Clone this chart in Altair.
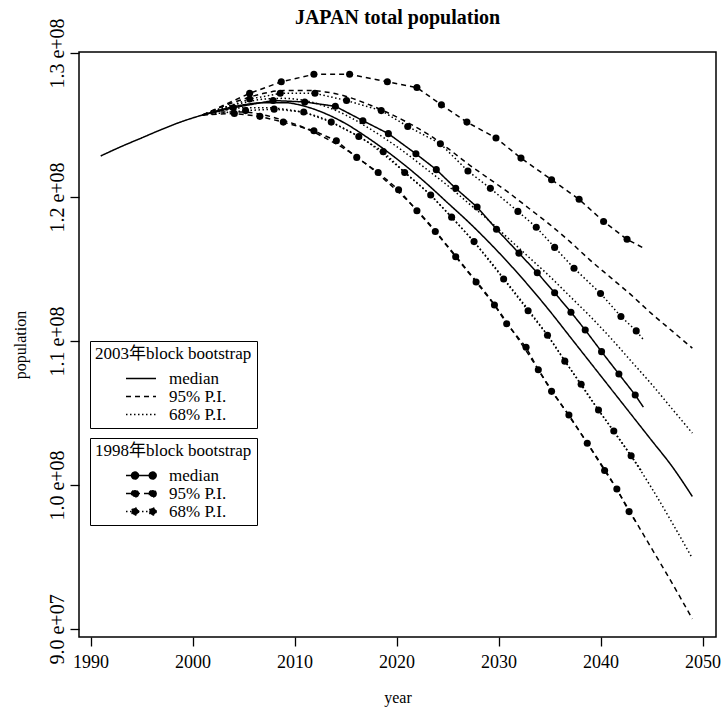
import altair as alt
import pandas as pd

TITLE = "JAPAN total population"
X_TICKS = [1990, 2000, 2010, 2020, 2030, 2040, 2050]
Y_TICKS = [90, 100, 110, 120, 130]          # population in millions
BANDS = ["median", "95% P.I.", "68% P.I."]
LEG03 = "2003年block bootstrap"
LEG98 = "1998年block bootstrap"

# observed part (drawn with the 2003 median)
obs_years = [1991, 1993, 1995, 1997, 1999]
obs_pop = [122.85, 123.5, 124.1, 124.7, 125.25]

# 2003 block bootstrap projections (millions)
fc03_years = [2001, 2003, 2005, 2007, 2009, 2011, 2013, 2015, 2017, 2019, 2021, 2023, 2025,
              2027, 2029, 2031, 2033, 2035, 2037, 2039, 2041, 2043, 2045, 2047, 2049]
med03 = [125.7, 126.1, 126.4, 126.55, 126.55, 126.3, 125.8, 125.1, 124.2, 123.2, 122.1, 120.9, 119.6,
         118.3, 116.9, 115.4, 113.8, 112.1, 110.3, 108.5, 106.7, 104.9, 103.1, 101.3, 99.2]
u95_03 = [125.7, 126.3, 126.8, 127.2, 127.4, 127.4, 127.3, 127.0, 126.5, 125.9, 125.2, 124.4, 123.4,
          122.3, 121.3, 120.3, 119.2, 118.1, 116.9, 115.6, 114.4, 113.2, 111.9, 110.7, 109.5]
u68_03 = [125.7, 126.2, 126.55, 126.8, 126.85, 126.7, 126.3, 125.7, 124.9, 124.0, 123.0, 121.9, 120.8,
          119.6, 118.4, 117.1, 115.8, 114.5, 113.1, 111.7, 110.2, 108.6, 107.0, 105.3, 103.6]
l68_03 = [125.7, 126.0, 126.2, 126.2, 126.1, 125.85, 125.4, 124.7, 123.9, 122.8, 121.6, 120.35, 118.9,
          117.35, 115.7, 113.9, 112.1, 110.2, 108.1, 106.0, 104.0, 102.0, 99.8, 97.4, 94.9]
l95_03 = [125.7, 125.9, 125.9, 125.7, 125.3, 124.8, 124.1, 123.3, 122.3, 121.1, 119.8, 118.3, 116.6,
          114.85, 113.1, 111.1, 109.0, 106.8, 104.7, 102.6, 100.4, 98.0, 95.6, 93.2, 90.7]

# 1998 block bootstrap projections: line vertices (inner vertices carry the dots)
med98_years = [2001, 2004.0, 2007.9, 2011.0, 2014.0, 2016.7, 2019.2, 2021.9, 2023.9, 2025.8, 2027.9,
               2029.8, 2032.0, 2033.8, 2035.5, 2037.1, 2038.5, 2040.1, 2041.8, 2043.4, 2044.2]
med98 = [125.7, 126.2, 126.7, 126.6, 126.3, 125.3, 124.4, 123.0, 121.9, 120.6, 119.3,
         117.76, 116.1, 114.74, 113.35, 112.0, 110.76, 109.26, 107.7, 106.25, 105.4]
u95_98_years = [2001, 2005.6, 2008.7, 2011.9, 2015.4, 2019.1, 2022.0, 2024.4, 2026.9, 2029.75, 2032.2,
                2035.2, 2037.9, 2040.3, 2042.6, 2044.1]
u95_98 = [125.7, 127.2, 128.0, 128.52, 128.52, 128.0, 127.6, 126.4, 125.2, 124.1, 122.7,
          121.2, 119.84, 118.3, 117.06, 116.5]
u68_98_years = [2001, 2005.6, 2008.6, 2012.0, 2015.1, 2018.5, 2021.1, 2024.3, 2027.0, 2029.2, 2031.9,
                2033.7, 2035.5, 2037.4, 2040.0, 2042.0, 2043.5, 2044.2]
u68_98 = [125.7, 126.8, 127.2, 127.2, 126.7, 126.0, 124.9, 123.7, 121.8, 120.6, 119.0,
          117.9, 116.5, 115.05, 113.3, 111.7, 110.7, 110.1]
l68_98_years = [2001, 2005.2, 2008.0, 2010.9, 2013.6, 2016.3, 2018.7, 2020.8, 2023.35, 2025.4, 2027.6,
                2030.5, 2032.9, 2034.8, 2036.5, 2038.1, 2039.8, 2041.3, 2043.0, 2044.0]
l68_98 = [125.7, 126.0, 126.1, 125.9, 125.2, 124.2, 123.15, 121.7, 120.14, 118.6, 116.9,
          114.3, 112.1, 110.4, 108.6, 107.0, 105.2, 103.75, 102.03, 101.0]
l95_98_years = [2001, 2004.1, 2006.6, 2008.9, 2011.9, 2014.1, 2016.1, 2018.2, 2020.2, 2022.0, 2023.8,
                2025.8, 2027.8, 2029.6, 2030.8, 2032.7, 2033.9, 2035.2, 2036.9, 2038.7, 2040.4,
                2041.6, 2042.8, 2043.5]
l95_98 = [125.7, 125.8, 125.6, 125.2, 124.6, 123.9, 122.75, 121.7, 120.5, 119.05, 117.6,
          115.85, 114.1, 112.5, 111.2, 109.56, 108.0, 106.5, 104.86, 102.9, 101.0,
          99.72, 98.15, 97.4]

rows = []
for yr, v in zip(obs_years, obs_pop):
    rows.append(dict(year=yr, pop=v, group="2003", band="median", series="2003 median", marker=False))
for band, vals in [("median", med03), ("95% P.I.", u95_03), ("95% P.I. ", l95_03),
                   ("68% P.I.", u68_03), ("68% P.I. ", l68_03)]:
    for yr, v in zip(fc03_years, vals):
        rows.append(dict(year=yr, pop=v, group="2003", band=band.strip(),
                         series="2003 " + band, marker=False))
for band, yrs, vals in [("median", med98_years, med98), ("95% P.I.", u95_98_years, u95_98),
                        ("95% P.I. ", l95_98_years, l95_98), ("68% P.I.", u68_98_years, u68_98),
                        ("68% P.I. ", l68_98_years, l68_98)]:
    n = len(yrs)
    for i, (yr, v) in enumerate(zip(yrs, vals)):
        rows.append(dict(year=yr, pop=v, group="1998", band=band.strip(),
                         series="1998 " + band, marker=(0 < i < n - 1)))
df = pd.DataFrame(rows)

FONT = "Liberation Serif, Noto Sans CJK JP, serif"
DOT_PATH = ("M-1,0L1,0"
            "M-0.17,0A0.23,0.23,0,1,1,-0.63,0A0.23,0.23,0,1,1,-0.17,0Z"
            "M1.01,0A0.23,0.23,0,1,1,0.55,0A0.23,0.23,0,1,1,1.01,0Z")

x_enc = alt.X("year:Q", scale=alt.Scale(domain=[1988.87, 2051.32], nice=False, zero=False),
              axis=alt.Axis(values=X_TICKS, title="year", format="d", labelPadding=7,
                            labelFontSize=18,
                            titleY=60, titleX=318.5, titleBaseline="middle", titleAnchor="middle"))
y_enc = alt.Y("pop:Q", scale=alt.Scale(domain=[89.44, 130.07], nice=False, zero=False),
              axis=alt.Axis(values=Y_TICKS, title="population",
                            labelExpr="datum.value >= 100 ? format(datum.value/100, '.1f') + ' e+08' : format(datum.value/10, '.1f') + ' e+07'",
                            labelAngle=270, labelAlign="center", labelBaseline="bottom",
                            labelPadding=3, labelFontSize=20,
                            titleAngle=270, titleX=-59, titleY=292.5,
                            titleBaseline="middle", titleAlign="center"))

dash_scale = alt.Scale(domain=BANDS, range=[[1, 0], [5, 4], [1.5, 2.5]])

leg_common = dict(orient="none", legendX=11, padding=5, strokeColor="black", fillColor="white",
                  titleFont=FONT, titleFontSize=17, titleFontWeight="normal", titlePadding=7,
                  titleColor="black", labelFont=FONT, labelFontSize=17, labelColor="black",
                  symbolSize=900, symbolOffset=30, labelOffset=12, clipHeight=17, rowPadding=0,
                  symbolStrokeWidth=1.5, symbolStrokeColor="black", titleLimit=400, labelLimit=300)

base = alt.Chart(df)

lines03 = base.transform_filter("datum.group == '2003'").mark_line(
    color="black", strokeWidth=1.5, interpolate="monotone", strokeCap="butt"
).encode(
    x=x_enc, y=y_enc,
    strokeDash=alt.StrokeDash("band:N", scale=dash_scale,
                              legend=alt.Legend(title=LEG03, legendY=289, symbolType="stroke", **leg_common)),
    detail="series:N",
)

lines98 = base.transform_filter("datum.group == '1998'").mark_line(
    color="black", strokeWidth=1.5, strokeCap="butt"
).encode(
    x=x_enc, y=y_enc,
    strokeDash=alt.StrokeDash("band:N", scale=dash_scale,
                              legend=alt.Legend(title=LEG98, legendY=386, symbolType=DOT_PATH,
                                                symbolFillColor="black", **leg_common)),
    detail="series:N",
)

dots98 = base.transform_filter("datum.group == '1998' && datum.marker").mark_circle(
    size=50, color="black", opacity=1
).encode(x=x_enc, y=y_enc)

chart = alt.layer(lines03, lines98, dots98).resolve_scale(
    strokeDash="independent"
).resolve_legend(
    strokeDash="independent"
).properties(
    width=637, height=585,
    padding={"left": 79, "top": 52, "right": 5, "bottom": 75},
    autosize=alt.AutoSizeParams(type="none"),
    title=alt.TitleParams(TITLE, font=FONT, fontSize=20, fontWeight="bold", color="black",
                          anchor="middle", offset=-10),
    background="white",
).configure_view(
    stroke="black", strokeWidth=1.5
).configure_axis(
    domain=False, grid=False, tickColor="black", tickSize=9, tickWidth=1.3,
    labelFont=FONT, labelColor="black",
    titleFont=FONT, titleFontSize=16, titleFontWeight="normal", titleColor="black",
)

chart.save("out.html", embed_options={"renderer": "svg", "actions": False})
